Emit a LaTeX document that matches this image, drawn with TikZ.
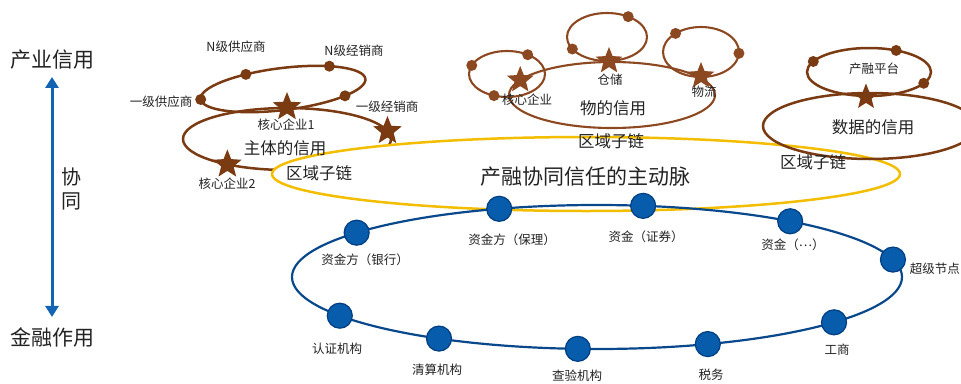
\documentclass[tikz,border=0pt]{standalone}
\usepackage{fontspec}
\setmainfont{Noto Sans CJK SC}
\usetikzlibrary{shapes.geometric,arrows.meta,calc}
\definecolor{brn}{RGB}{122,58,18}
\definecolor{brn2}{RGB}{140,72,32}
\definecolor{ylw}{RGB}{243,190,0}
\definecolor{bline}{RGB}{10,72,140}
\definecolor{bfill}{RGB}{8,92,172}
\definecolor{bedge}{RGB}{0,62,130}
\definecolor{arr}{RGB}{20,100,180}
\definecolor{txt}{RGB}{35,35,35}
\tikzset{
 lbl/.style={font=\fontsize{12.5pt}{14pt}\selectfont, text=txt, inner sep=0pt},
 midt/.style={font=\fontsize{16.5pt}{19pt}\selectfont, text=txt, inner sep=0pt},
 bigt/.style={font=\fontsize{21pt}{24pt}\selectfont, text=txt, inner sep=0pt},
 bdot/.style={circle, fill=brn, inner sep=0pt, minimum size=11pt},
 bdot2/.style={circle, fill=brn2, inner sep=0pt, minimum size=11pt},
 bstar/.style={star, star points=5, star point ratio=2.3, fill=brn, inner sep=0pt, minimum size=30pt},
 bstar2/.style={star, star points=5, star point ratio=2.3, fill=brn2, inner sep=0pt, minimum size=28pt},
 udot/.style={circle, fill=bfill, draw=bedge, line width=1.2pt, inner sep=0pt, minimum size=25pt},
 brline/.style={draw=brn, line width=2.5pt},
 brline2/.style={draw=brn2, line width=2.1pt},
 yline/.style={draw=ylw, line width=2.5pt},
 uline/.style={draw=bline, line width=2.2pt},
}
\begin{document}
\begin{tikzpicture}[x=1pt,y=-1pt]
\useasboundingbox (0,0) rectangle (961,383);
\fill[white] (0,0) rectangle (961,383);

% left axis
\node[bigt] (cy) at (52,60) {产业信用};
\node[bigt] (jr) at (52,337) {金融作用};
\draw[arr, line width=3pt, {Triangle[width=13pt,length=11pt]}-{Triangle[width=13pt,length=11pt]}, shorten <=7pt, shorten >=10pt] (cy) -- (jr);
\node[font=\fontsize{20pt}{22pt}\selectfont, text=txt, inner sep=0pt] (xie) at (71,177) {协};
\node[font=\fontsize{20pt}{22pt}\selectfont, text=txt, inner sep=0pt] (tong) at (71,201) {同};

% ---- 主体的信用 cluster
\draw[brline] (287,139) ellipse[x radius=104, y radius=31];
\begin{scope}[shift={(283,89)}, rotate=7]
 \draw[brline] (0,0) ellipse[x radius=83, y radius=21];
 \node[bdot] (d1) at (-115:83 and 21) {};
 \node[bdot] (d2) at (-54:83 and 21) {};
 \node[bdot] (d3) at (179:83 and 21) {};
 \node[bdot] (d4) at (43:83 and 21) {};
\end{scope}
\node[bstar] (s1) at (287,107) {};
\node[bstar] (s2) at ($(287,139)+(125:104 and 31)$) {};
\node[bstar] (s3) at ($(287,139)+(-15:104 and 31)$) {};

% ---- yellow main artery
\draw[yline, fill=white] (586,174) ellipse[x radius=314, y radius=37];

% ---- blue finance ring
\draw[uline] (597,277) ellipse[x radius=305, y radius=72];
\coordinate (uc) at (597,277);
\node[udot] (u1) at ($(uc)+(-142:305 and 72)$) {};
\node[udot] (u2) at ($(uc)+(-108.7:305 and 72)$) {};
\node[udot] (u3) at ($(uc)+(-81.3:305 and 72)$) {};
\node[udot] (u4) at ($(uc)+(-50.7:305 and 72)$) {};
\node[udot] (u5) at ($(uc)+(-14:305 and 72)$) {};
\node[udot] (u6) at ($(uc)+(39:305 and 72)$) {};
\node[udot] (u7) at ($(uc)+(68.7:305 and 72)$) {};
\node[udot] (u8) at ($(uc)+(93.6:305 and 72)$) {};
\node[udot] (u9) at ($(uc)+(121.2:305 and 72)$) {};
\node[udot] (u10) at ($(uc)+(147.5:305 and 72)$) {};

% ---- 物的信用 cluster
\draw[brline2] (612,95) ellipse[x radius=103, y radius=33];
\draw[brline2] (507,74) ellipse[x radius=38, y radius=23];
\draw[brline2] (607,37) ellipse[x radius=40, y radius=24];
\draw[brline2] (701,52) ellipse[x radius=38, y radius=25];
\node[bdot2] (w1) at ($(507,74)+(-158:38 and 23)$) {};
\node[bdot2] (w2) at ($(507,74)+(-57:38 and 23)$) {};
\node[bdot2] (w3) at ($(507,74)+(110:38 and 23)$) {};
\node[bdot2] (w4) at ($(607,37)+(-58:40 and 24)$) {};
\node[bdot2] (w5) at ($(607,37)+(150:40 and 24)$) {};
\node[bdot2] (w6) at ($(701,52)+(-132:38 and 25)$) {};
\node[bdot2] (w7) at ($(701,52)+(3:38 and 25)$) {};
\node[bstar2] (ws1) at ($(612,95)+(-153:103 and 33)$) {};
\node[bstar2] (ws2) at (609,61) {};
\node[bstar2] (ws3) at (701,76) {};

% ---- 数据的信用 cluster
\draw[brline] (870,126) ellipse[x radius=107, y radius=33];
\draw[brline] (869,72) ellipse[x radius=62, y radius=24];
\node[bdot] (p1) at ($(869,72)+(-154:62 and 24)$) {};
\node[bdot] (p2) at ($(869,72)+(-64:62 and 24)$) {};
\node[bdot] (p3) at ($(869,72)+(28:62 and 24)$) {};
\node[bstar, minimum size=27pt] (ps) at (866,97) {};

% ---- labels: 主体
\node[lbl] (l1) at (236,47) {N级供应商};
\node[lbl] (l2) at (354,51) {N级经销商};
\node[lbl] (l3) at (161,102) {一级供应商};
\node[lbl] (l4) at (387,107) {一级经销商};
\node[lbl] (l5) at (286,125) {核心企业1};
\node[lbl] (l6) at (227,184) {核心企业2};
\node[midt] (l7) at (285,148) {主体的信用};
\node[midt] (l8) at (319,173) {区域子链};

% labels: 物
\node[lbl] (m1) at (527,100) {核心企业};
\node[lbl] (m2) at (610,80) {仓储};
\node[lbl] (m3) at (704,92) {物流};
\node[midt] (m4) at (613,108) {物的信用};
\node[midt] (m5) at (611,141) {区域子链};

% labels: 数据
\node[lbl] (n1) at (874,69) {产融平台};
\node[midt] (n2) at (873,127) {数据的信用};
\node[midt] (n3) at (813,162) {区域子链};

% main artery
\node[bigt] (main) at (585,177) {产融协同信任的主动脉};

% labels: blue ring
\node[lbl] (b1) at (365,260) {资金方（银行）};
\node[lbl] (b2) at (512,240) {资金方（保理）};
\node[lbl] (b3) at (646,237) {资金（证券）};
\node[lbl] (b4) at (793,245) {资金（\raisebox{0.3em}{…}）};
\node[lbl, anchor=east] (b5) at (960,269) {超级节点};
\node[lbl] (b6) at (837,350) {工商};
\node[lbl] (b7) at (711,375) {税务};
\node[lbl] (b8) at (577,376) {查验机构};
\node[lbl] (b9) at (437,370) {清算机构};
\node[lbl] (b10) at (337,349) {认证机构};
\end{tikzpicture}
\end{document}
